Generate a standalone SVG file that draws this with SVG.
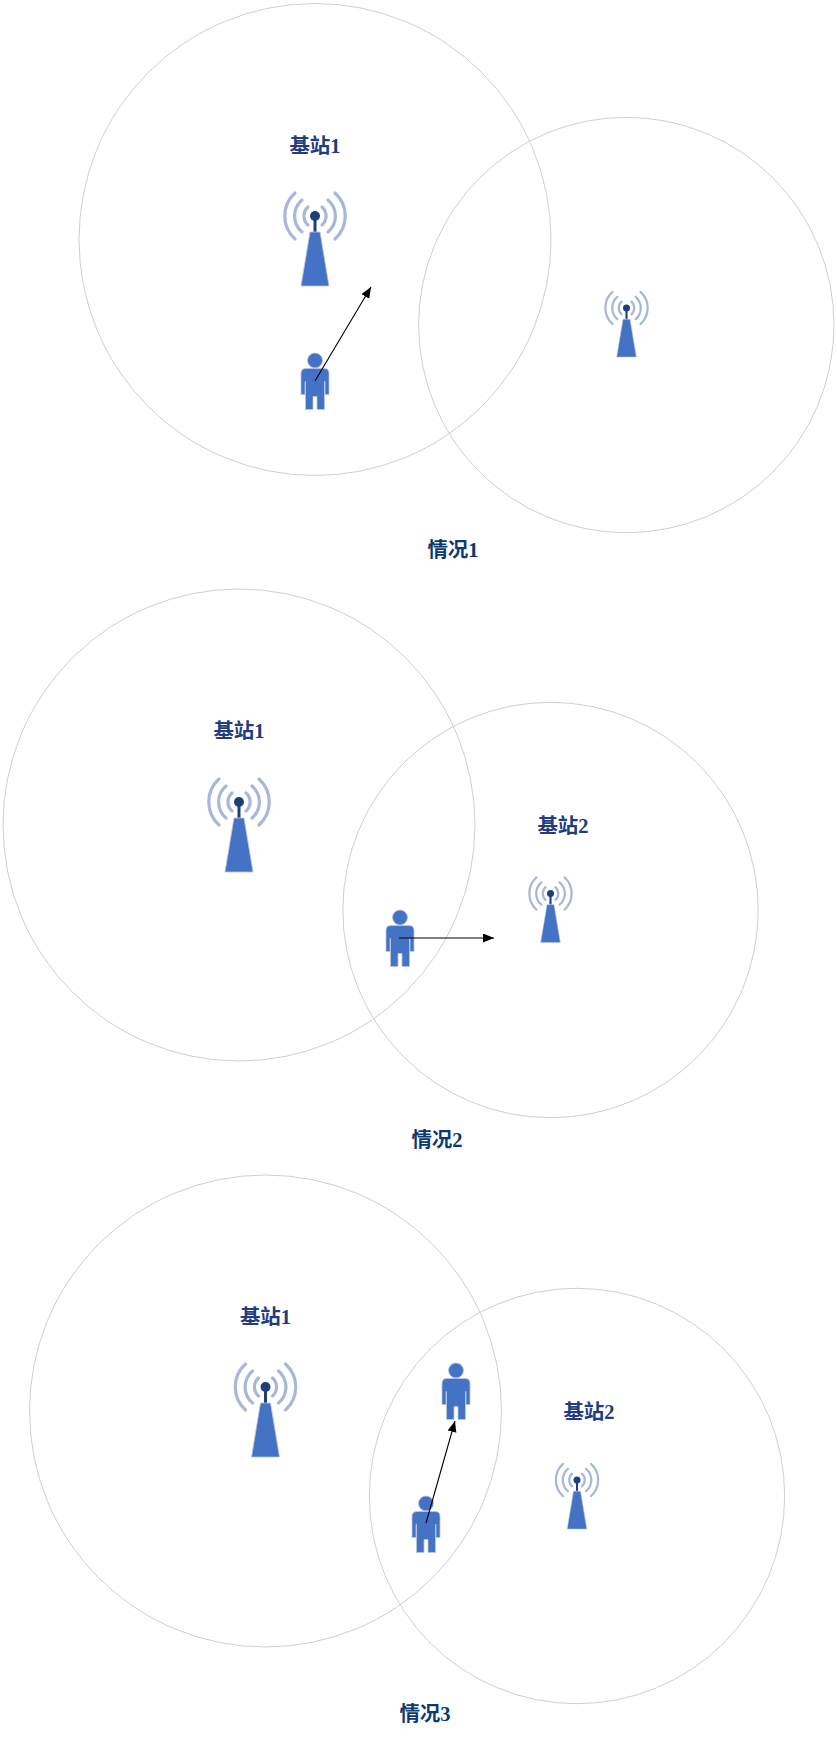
<svg xmlns="http://www.w3.org/2000/svg" width="837" height="1757" viewBox="0 0 837 1757">
<style>
.cell{fill:none;stroke:#cfcfcf;stroke-width:1}
.wave{fill:none;stroke:#a8b8d6;stroke-width:3.2;stroke-linecap:round}
.blue{fill:#4472c4;stroke:#b9c6de;stroke-width:.8}
.dark{fill:#203f78}
.stem{stroke:#203f78;stroke-width:3}
.arrow{stroke:#000;stroke-width:1.1;fill:none;marker-end:url(#tip)}
text{font-family:"Liberation Serif","Noto Sans CJK SC",serif;font-size:20.5px;font-weight:700;text-anchor:middle}
.bs{fill:#1f3d80}
.cap{fill:#0c3a70}
</style>
<defs>
<marker id="tip" markerUnits="userSpaceOnUse" markerWidth="12" markerHeight="10" refX="11" refY="4.5" orient="auto">
<path d="M0,0L11,4.5L0,9Z" fill="#000"/>
</marker>
<g id="tower">
<path class="wave" d="M-20,-23A31,31 0 0 0 -20,23M20,-23A31,31 0 0 1 20,23M-13,-16A21,21 0 0 0 -13,16M13,-16A21,21 0 0 1 13,16M-7,-9A12,12 0 0 0 -7,9M7,-9A12,12 0 0 1 7,9"/>
<path class="stem" d="M0,0V16"/>
<circle class="dark" r="5"/>
<path class="blue" d="M-5,16H5L14,70H-14Z"/>
</g>
<g id="person">
<circle class="blue" r="7.5"/>
<path class="blue" d="M-9,8H9Q14,8 14,13V34H10V21H9.5V49H2V36H-2V49H-9.500V21H-10V34H-14V13Q-14,8 -9,8Z"/>
</g>
</defs>
<g id="cells-1">
<circle class="cell" cx="315" cy="239.5" r="236"/>
<circle class="cell" cx="626.3" cy="325" r="207.700"/>
</g>
<g id="cells-2">
<circle class="cell" cx="239" cy="825" r="236"/>
<circle class="cell" cx="550.500" cy="910" r="207.700"/>
</g>
<g id="cells-3">
<circle class="cell" cx="265.500" cy="1411" r="236"/>
<circle class="cell" cx="577" cy="1496" r="207.700"/>
</g>
<g id="tower-1a"><use href="#tower" transform="translate(315,216)"/><text class="bs" x="315" y="153">基站1</text></g>
<g id="tower-1b"><use href="#tower" transform="translate(626.500,308) scale(.7)"/></g>
<g id="user-1"><use href="#person" transform="translate(315,360.500)"/></g>
<g id="tower-2a"><use href="#tower" transform="translate(239,802)"/><text class="bs" x="239" y="738">基站1</text></g>
<g id="tower-2b"><use href="#tower" transform="translate(550.500,893.500)scale(.7)"/><text class="bs" x="563" y="833">基站2</text></g>
<g id="user-2"><use href="#person" transform="translate(400,917.500)"/></g>
<g id="tower-3a"><use href="#tower" transform="translate(265.500,1387)"/><text class="bs" x="265.500" y="1323.500">基站1</text></g>
<g id="tower-3b"><use href="#tower" transform="translate(577,1480)scale(.7)"/><text class="bs" x="589" y="1418.500">基站2</text></g>
<g id="user-3a"><use href="#person" transform="translate(426,1503.500)"/></g>
<g id="user-3b"><use href="#person" transform="translate(456,1370.500)"/></g>
<g id="connectors">
<path class="arrow" d="M315,381L371,287"/>
<path class="arrow" d="M399,938H494"/>
<path class="arrow" d="M426,1523L455,1421"/>
</g>
<g id="captions">
<text class="cap" x="453" y="557">情况1</text>
<text class="cap" x="437" y="1147">情况2</text>
<text class="cap" x="425" y="1721">情况3</text>
</g>
</svg>
